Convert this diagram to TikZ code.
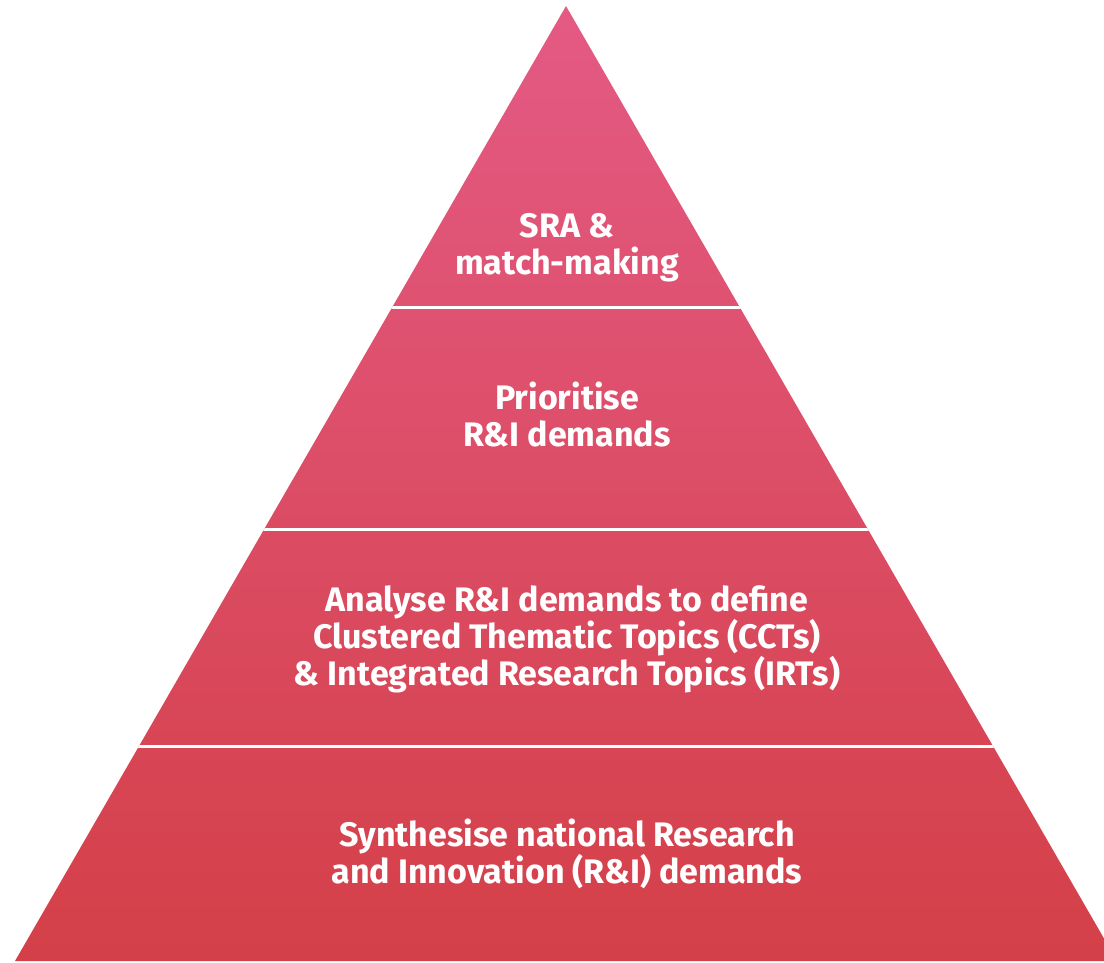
\documentclass[tikz,border=0pt]{standalone}
\usepackage{fontspec}
\setmainfont{Fira Sans}
\begin{document}
\begin{tikzpicture}[x=1pt,y=-1pt,
  label/.style={align=center,text=white,inner sep=0pt,anchor=base,
    font=\bfseries\fontsize{34}{37}\selectfont},
  sep/.style={draw=white,line width=3pt}]
\useasboundingbox (0,0) rectangle (1104,963);
\definecolor{pyrtop}{RGB}{228,90,132}
\definecolor{pyrbot}{RGB}{212,64,72}
\begin{scope}
\clip (0,0) rectangle (1104,963);
\coordinate (apex) at (566,6);
\coordinate (bl) at (15,961);
\coordinate (br) at (1117,961);
\shade[top color=pyrtop,bottom color=pyrbot] (apex) -- (bl) -- (br) -- cycle;
\clip (apex) -- (bl) -- (br) -- cycle;
\draw[sep] (0,307.5) -- (1104,307.5);
\draw[sep] (0,529) -- (1104,529);
\draw[sep] (0,746.5) -- (1104,746.5);
\end{scope}
\node[label] (l1) at (567,274) {SRA \&\\match-making};
\node[label] (l2) at (567,446) {Prioritise\\R\&I demands};
\node[label] (l3) at (567,685) {Analyse R\&I demands to define\\Clustered Thematic Topics (CCTs)\\\& Integrated Research Topics (IRTs)};
\node[label] (l4) at (567,883) {Synthesise national Research\\and Innovation (R\&I) demands};
\end{tikzpicture}
\end{document}
